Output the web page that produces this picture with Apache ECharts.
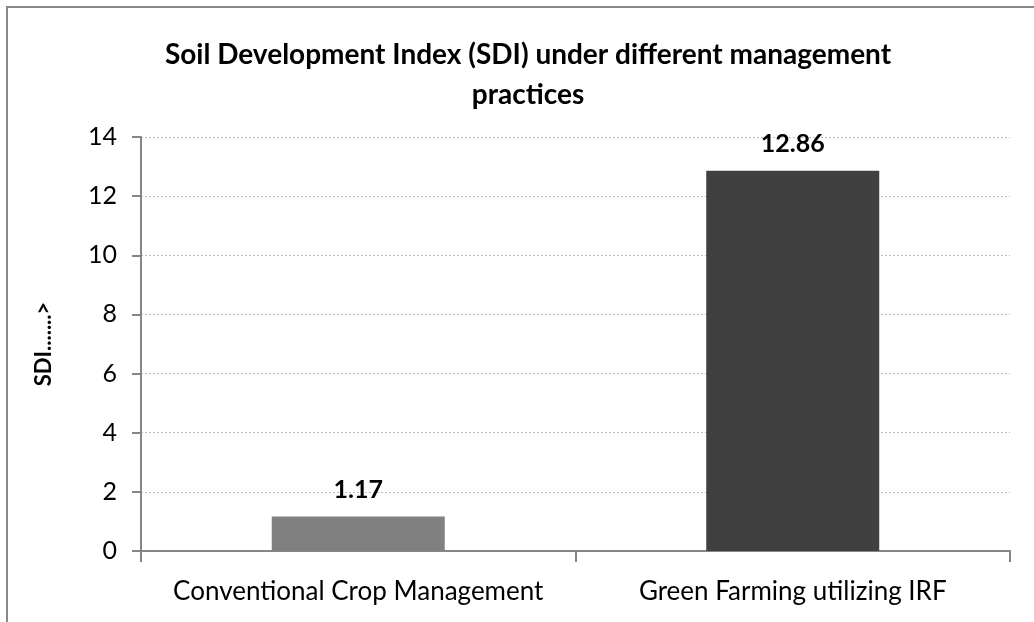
<!DOCTYPE html>
<html>
<head>
<meta charset="utf-8">
<script src="https://cdn.jsdelivr.net/npm/echarts@6/dist/echarts.min.js"></script>
<style>
  html, body { margin: 0; padding: 0; background: #fff; }
  #chart1 { width: 1034px; height: 622px; }
</style>
</head>
<body>
<div id="chart1"></div>
<script>
const categorias = ["Conventional Crop Management", "Green Farming utilizing IRF"];
const valoresSDI = [1.17, 12.86];
const coresBarras = ["#808080", "#404040"];
const ticksY = [0, 2, 4, 6, 8, 10, 12, 14];

const fonte = "Lato, 'Open Sans', sans-serif";

const getOptionChart1 = () => {
  return {
    backgroundColor: "#fff",
    animation: false,
    title: {
      text: "Soil Development Index (SDI) under different management\npractices",
      left: 523,
      top: 30,
      textAlign: "center",
      textStyle: {
        fontFamily: fonte,
        fontWeight: "bold",
        fontSize: 28,
        lineHeight: 40,
        color: "#000",
      },
    },
    graphic: [
      {
        type: "rect",
        shape: { x: 7, y: 7, width: 1100, height: 700 },
        style: { fill: "none", stroke: "#888", lineWidth: 2 },
        silent: true,
      },
    ],
    grid: {
      left: 141,
      right: 24,
      top: 137,
      bottom: 71,
      containLabel: false,
    },
    xAxis: {
      type: "category",
      data: categorias,
      boundaryGap: true,
      axisLine: { lineStyle: { color: "#868686", width: 2 } },
      axisTick: { show: true, length: 11, lineStyle: { color: "#868686", width: 2 } },
      axisLabel: {
        margin: 28,
        fontFamily: fonte,
        fontSize: 26,
        color: "#000",
        interval: 0,
      },
    },
    yAxis: {
      type: "value",
      min: ticksY[0],
      max: ticksY[ticksY.length - 1],
      interval: 2,
      name: "SDI.......>",
      nameLocation: "middle",
      nameGap: 86,
      nameTextStyle: {
        fontFamily: fonte,
        fontWeight: "bold",
        fontSize: 22,
        color: "#000",
      },
      axisLine: { show: true, lineStyle: { color: "#868686", width: 2 } },
      axisTick: { show: true, length: 9, lineStyle: { color: "#868686", width: 2 } },
      axisLabel: {
        margin: 24,
        fontFamily: fonte,
        fontSize: 25,
        color: "#000",
      },
      splitLine: { lineStyle: { color: "#bcbcbc", width: 1, type: [2, 2] } },
    },
    series: [
      {
        name: "SDI",
        type: "bar",
        barWidth: 173,
        data: valoresSDI.map((v, i) => ({ value: v, itemStyle: { color: coresBarras[i] } })),
        label: {
          show: true,
          position: "top",
          distance: 14,
          fontFamily: fonte,
          fontWeight: "bold",
          fontSize: 25,
          color: "#000",
        },
      },
    ],
  };
};

const initCharts = () => {
  const chart1 = echarts.init(document.getElementById("chart1"));
  chart1.setOption(getOptionChart1());
};

window.addEventListener("load", () => {
  initCharts();
});
</script>
</body>
</html>
